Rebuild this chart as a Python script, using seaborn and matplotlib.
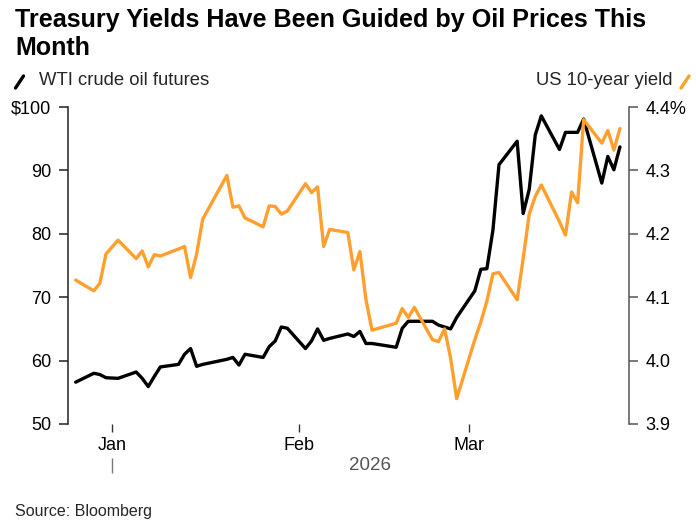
import matplotlib
matplotlib.use('Agg')
import pandas as pd
import numpy as np
import matplotlib.pyplot as plt
import seaborn as sns
from matplotlib.lines import Line2D

# trading days (Dec 26 2025 - Mar 26 2026)
dates = [
    '2025-12-26', '2025-12-29', '2025-12-30', '2025-12-31',
    '2026-01-02', '2026-01-05', '2026-01-06', '2026-01-07', '2026-01-08', '2026-01-09',
    '2026-01-12', '2026-01-13', '2026-01-14', '2026-01-15', '2026-01-16',
    '2026-01-20', '2026-01-21', '2026-01-22', '2026-01-23',
    '2026-01-26', '2026-01-27', '2026-01-28', '2026-01-29', '2026-01-30',
    '2026-02-02', '2026-02-03', '2026-02-04', '2026-02-05', '2026-02-06',
    '2026-02-09', '2026-02-10', '2026-02-11', '2026-02-12', '2026-02-13',
    '2026-02-17', '2026-02-18', '2026-02-19', '2026-02-20',
    '2026-02-23', '2026-02-24', '2026-02-25', '2026-02-26', '2026-02-27',
    '2026-03-02', '2026-03-03', '2026-03-04', '2026-03-05', '2026-03-06',
    '2026-03-09', '2026-03-10', '2026-03-11', '2026-03-12', '2026-03-13',
    '2026-03-16', '2026-03-17', '2026-03-18', '2026-03-19', '2026-03-20',
    '2026-03-23', '2026-03-24', '2026-03-25', '2026-03-26',
]

# WTI crude oil futures, $/bbl
wti = [
    56.6, 58.0, 57.8, 57.3,
    57.2, 58.2, 57.2, 55.9, 57.5, 59.0,
    59.4, 61.0, 61.9, 59.1, 59.4,
    60.2, 60.5, 59.3, 61.0,
    60.5, 62.2, 63.1, 65.3, 65.1,
    61.9, 63.1, 65.0, 63.2, 63.5,
    64.2, 63.8, 64.6, 62.7, 62.7,
    62.1, 65.1, 66.2, 66.2,
    66.2, 65.6, 65.3, 65.0, 66.8,
    71.0, 74.4, 74.5, 80.6, 90.9,
    94.6, 83.2, 87.0, 95.6, 98.6,
    93.3, 96.0, 96.0, 96.0, 98.1,
    88.0, 92.2, 90.1, 93.7,
]

# US 10-year yield, %
yield10 = [
    4.127, 4.110, 4.122, 4.168,
    4.190, 4.161, 4.173, 4.148, 4.167, 4.165,
    4.176, 4.180, 4.131, 4.168, 4.223,
    4.292, 4.242, 4.244, 4.225,
    4.211, 4.244, 4.243, 4.231, 4.236,
    4.279, 4.265, 4.274, 4.180, 4.207,
    4.202, 4.143, 4.172, 4.096, 4.048,
    4.059, 4.082, 4.068, 4.084,
    4.033, 4.030, 4.050, 4.004, 3.940,
    4.033, 4.061, 4.094, 4.137, 4.139,
    4.096, 4.161, 4.231, 4.259, 4.277,
    4.219, 4.198, 4.266, 4.249, 4.380,
    4.343, 4.363, 4.332, 4.366,
]

oil_ticks = [50, 60, 70, 80, 90, 100]
oil_labels = ['50', '60', '70', '80', '90', '$100']
yld_ticks = [3.9, 4.0, 4.1, 4.2, 4.3, 4.4]
yld_labels = ['3.9', '4.0', '4.1', '4.2', '4.3', '4.4%']
month_ticks = ['2026-01-01', '2026-02-01', '2026-03-01']
month_labels = ['Jan', 'Feb', 'Mar']

ORANGE = '#FF9F2D'
W, H = 696, 524

sns.set_theme(style='white')
plt.rcParams['font.family'] = ['Liberation Sans', 'DejaVu Sans']

df = pd.DataFrame({'date': pd.to_datetime(dates), 'wti': wti, 'yield': yield10})

fig = plt.figure(figsize=(W / 100, H / 100), dpi=100)
ax = fig.add_axes([68 / W, 1 - 424 / H, (629 - 68) / W, 317 / H])
ax2 = ax.twinx()

sns.lineplot(data=df, x='date', y='wti', ax=ax, color='black', linewidth=2.4)
sns.lineplot(data=df, x='date', y='yield', ax=ax2, color=ORANGE, linewidth=2.4)

ax.set_xlim(pd.Timestamp('2025-12-24 17:30'), pd.Timestamp('2026-03-27 12:00'))
ax.set_ylim(50, 100)
ax2.set_ylim(3.9, 4.4)

ax.set_yticks(oil_ticks, oil_labels)
ax2.set_yticks(yld_ticks, yld_labels)
ax.set_xticks(pd.to_datetime(month_ticks), month_labels)
for a in (ax, ax2):
    a.set_xlabel('')
    a.set_ylabel('')
    a.grid(False)

for s in ['top', 'bottom', 'right']:
    ax.spines[s].set_visible(False)
for s in ['top', 'bottom', 'left']:
    ax2.spines[s].set_visible(False)
ax.spines['left'].set_color('#222222')
ax2.spines['right'].set_color('#555555')
ax.spines['left'].set_linewidth(1.1)
ax2.spines['right'].set_linewidth(1.1)

ax.tick_params(axis='y', left=True, length=6.5, width=1.1, color='#222222',
               pad=5.5, labelsize=13, labelcolor='black')
ax2.tick_params(axis='y', right=True, length=6.5, width=1.1, color='#555555',
                pad=5.5, labelsize=13, labelcolor='black')
ax.tick_params(axis='x', bottom=True, length=6, width=1, color='#333333',
               pad=3, labelsize=13, labelcolor='black')

# year marker below the month labels
sec = ax.secondary_xaxis(-0.107)
sec.set_xticks(pd.to_datetime(['2026-01-01']), [''])
sec.tick_params(length=11, width=1, color='#777777')
sec.spines['bottom'].set_visible(False)
fig.text(370 / W, 1 - 465 / H, '2026', ha='center', va='center',
         color='#555555', fontsize=13.5)

# title, two lines
fig.text(15 / W, 1 - 27.5 / H, 'Treasury Yields Have Been Guided by Oil Prices This',
         fontsize=18.1, weight='bold', va='baseline', ha='left', color='black')
fig.text(15 / W, 1 - 55 / H, 'Month',
         fontsize=18.1, weight='bold', va='baseline', ha='left', color='black')

# legend
fig.text(39 / W, 1 - 85 / H, 'WTI crude oil futures', fontsize=13.3, va='baseline', ha='left')
fig.add_artist(Line2D([15.5 / W, 23.5 / W], [1 - 88 / H, 1 - 76 / H],
                      color='black', linewidth=2.4, transform=fig.transFigure))
fig.text(672 / W, 1 - 85 / H, 'US 10-year yield', fontsize=13.3, va='baseline', ha='right')
fig.add_artist(Line2D([681 / W, 689 / W], [1 - 88 / H, 1 - 76 / H],
                      color=ORANGE, linewidth=2.4, transform=fig.transFigure))

fig.text(15 / W, 1 - 516 / H, 'Source: Bloomberg', fontsize=11.5, va='baseline', ha='left')

fig.savefig('out.png', dpi=100)
